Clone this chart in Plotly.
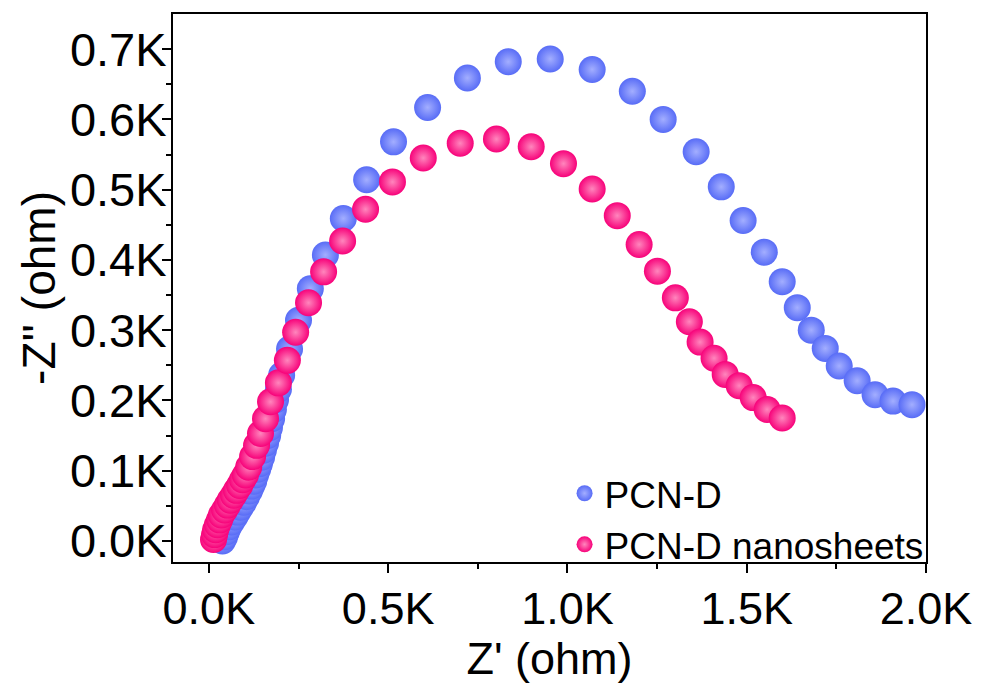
import plotly.graph_objects as go

# Z' (ohm) and -Z'' (ohm)
pcn_d_x = [38, 44, 49, 55, 63, 72, 80, 88, 97, 105, 113, 119, 125, 130, 136, 141, 147, 152, 158, 164,
           169, 175, 180, 186, 194, 203, 225, 250, 283, 325, 375, 440, 515, 610, 721, 835, 952, 1069,
           1181, 1267, 1359, 1429, 1490, 1549, 1599, 1641, 1680, 1719, 1758, 1808, 1858, 1908, 1961]
pcn_d_y = [0, 6, 13, 20, 27, 34, 41, 48, 55, 63, 71, 78, 85, 94, 102, 110, 119, 129, 139, 150,
           161, 174, 187, 201, 216, 236, 273, 314, 359, 407, 459, 514, 568, 617, 659, 682, 686, 671,
           640, 600, 554, 504, 456, 411, 369, 332, 300, 274, 249, 228, 208, 199, 194]

nano_x = [13, 16, 19, 24, 30, 35, 44, 52, 60, 69, 77, 86, 94, 102, 111, 122, 133, 144, 158, 172,
          194, 219, 242, 278, 320, 373, 437, 512, 598, 701, 802, 899, 989, 1069, 1139, 1200, 1251,
          1301, 1340, 1370, 1409, 1440, 1479, 1518, 1557, 1599]
nano_y = [2, 9, 16, 23, 30, 37, 44, 51, 58, 65, 72, 79, 87, 94, 105, 120, 136, 153, 174, 198,
          225, 257, 297, 339, 383, 427, 472, 511, 545, 566, 572, 561, 537, 501, 463, 422, 384,
          346, 312, 283, 260, 237, 221, 204, 187, 175]

x_tickvals = [0, 500, 1000, 1500, 2000]
x_ticktext = ["0.0K", "0.5K", "1.0K", "1.5K", "2.0K"]
y_tickvals = [0, 100, 200, 300, 400, 500, 600, 700]
y_ticktext = ["0.0K", "0.1K", "0.2K", "0.3K", "0.4K", "0.5K", "0.6K", "0.7K"]
x_minor = [250, 750, 1250, 1750]
y_minor = [50, 150, 250, 350, 450, 550, 650]

series_names = ["PCN-D", "PCN-D nanosheets"]
BLUE = "#586cf6"
PINK = "#f7027a"
FONT = "Arial, 'Liberation Sans', sans-serif"

fig = go.Figure()
fig.add_trace(go.Scatter(
    x=pcn_d_x, y=pcn_d_y, mode="markers", name=series_names[0],
    marker=dict(size=27, color=BLUE, line=dict(width=0),
                gradient=dict(type="radial", color="#a3aeff")),
))
fig.add_trace(go.Scatter(
    x=nano_x, y=nano_y, mode="markers", name=series_names[1],
    marker=dict(size=27, color=PINK, line=dict(width=0),
                gradient=dict(type="radial", color="#ff86bd")),
))

axis_common = dict(
    showline=True, linecolor="black", linewidth=2, mirror=True,
    ticks="outside", ticklen=9, tickwidth=2, tickcolor="black",
    showgrid=False, zeroline=False,
)

fig.update_xaxes(
    range=[-100, 2000], tickmode="array", tickvals=x_tickvals, ticktext=x_ticktext,
    tickfont=dict(family=FONT, size=45, color="black"),
    ticklabelstandoff=-3,
    minor=dict(tickmode="array", tickvals=x_minor, ticks="outside", ticklen=5,
               tickwidth=2, tickcolor="black"),
    title=dict(text="Z' (ohm)", font=dict(family=FONT, size=45, color="black"), standoff=6),
    **axis_common,
)
fig.update_yaxes(
    range=[-30, 750], tickmode="array", tickvals=y_tickvals, ticktext=y_ticktext,
    tickfont=dict(family=FONT, size=47, color="black"),
    ticklabelstandoff=-14,
    minor=dict(tickmode="array", tickvals=y_minor, ticks="outside", ticklen=5,
               tickwidth=2, tickcolor="black"),
    title=dict(text="-Z'' (ohm)", font=dict(family=FONT, size=46, color="black"), standoff=0),
    **axis_common,
)

fig.update_layout(
    width=998, height=684,
    margin=dict(l=173, r=72, t=13, b=119),
    paper_bgcolor="white", plot_bgcolor="white",
    showlegend=True,
    legend=dict(x=0.52, y=-0.025, xanchor="left", yanchor="bottom",
                bgcolor="rgba(0,0,0,0)", borderwidth=0,
                font=dict(family=FONT, size=37, color="black"),
                itemsizing="trace"),
)

fig.write_html("out.html")
